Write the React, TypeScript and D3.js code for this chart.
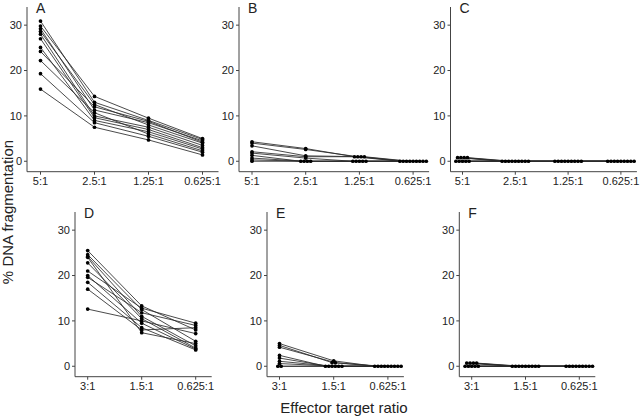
import React from 'react';
import * as d3 from 'd3';

const topCats = ['5:1', '2.5:1', '1.25:1', '0.625:1'];
const botCats = ['3:1', '1.5:1', '0.625:1'];
const yTicks = [0, 10, 20, 30];

const panelA = [
  [30.9, 13.0, 9.0, 4.8],
  [29.8, 14.3, 9.5, 5.0],
  [29.2, 11.3, 8.5, 4.5],
  [28.6, 12.5, 8.0, 4.0],
  [28.0, 10.0, 7.5, 3.5],
  [27.0, 9.6, 7.0, 3.0],
  [25.1, 9.0, 6.5, 2.7],
  [24.2, 12.0, 8.8, 4.2],
  [22.2, 10.7, 6.0, 2.3],
  [19.3, 8.5, 5.5, 2.0],
  [15.9, 7.5, 4.7, 1.4],
];
const panelB = [
  [4.3, 2.8, 1.0, 0],
  [4.0, 2.6, 1.0, 0],
  [3.4, 1.2, 1.0, 0],
  [2.1, 1.0, 1.0, 0],
  [1.8, 0.7, 0, 0],
  [1.3, 0, 0, 0],
  [0.7, 0, 0, 0],
  [0.3, 0, 0, 0],
  [0, 0, 0, 0],
];
const panelC = [
  [0.8, 0, 0, 0],
  [0.8, 0, 0, 0],
  [0.8, 0, 0, 0],
  [0.8, 0, 0, 0],
  [0, 0, 0, 0],
  [0, 0, 0, 0],
  [0, 0, 0, 0],
  [0, 0, 0, 0],
  [0, 0, 0, 0],
];
const panelD = [
  [25.5, 13.3, 8.0],
  [24.6, 12.5, 5.5],
  [24.2, 11.0, 4.5],
  [22.8, 10.5, 4.0],
  [21.0, 12.8, 9.5],
  [20.0, 9.5, 3.8],
  [19.6, 11.8, 9.0],
  [18.5, 8.5, 3.6],
  [17.0, 8.0, 8.5],
  [12.6, 10.0, 7.2],
  [24.0, 7.4, 5.0],
];
const panelE = [
  [5.0, 1.2, 0],
  [4.6, 0.8, 0],
  [4.2, 0.8, 0],
  [2.4, 0, 0],
  [1.8, 0, 0],
  [1.1, 0, 0],
  [0.6, 0, 0],
  [0, 0, 0],
  [0, 0, 0],
];
const panelF = [
  [0.7, 0, 0],
  [0.7, 0, 0],
  [0.7, 0, 0],
  [0.7, 0, 0],
  [0, 0, 0],
  [0, 0, 0],
  [0, 0, 0],
  [0, 0, 0],
  [0, 0, 0],
];

const panels = [
  { label: 'A', data: panelA, cats: topCats, axisX: 27, row: 0, off: 13.5, step: 54 },
  { label: 'B', data: panelB, cats: topCats, axisX: 239, row: 0, off: 13, step: 53.7 },
  { label: 'C', data: panelC, cats: topCats, axisX: 450.5, row: 0, off: 12, step: 52.8 },
  { label: 'D', data: panelD, cats: botCats, axisX: 75, row: 1, off: 12.7, step: 54 },
  { label: 'E', data: panelE, cats: botCats, axisX: 267, row: 1, off: 12.5, step: 54.2 },
  { label: 'F', data: panelF, cats: botCats, axisX: 459.3, row: 1, off: 12.4, step: 53.8 },
];

const rows = [
  { bottom: 171.7, top: 7 },
  { bottom: 376.7, top: 212 },
];

const FONT = 'Liberation Sans, Arial, Helvetica, sans-serif';
const AXIS = '#444';
const SPREAD = 3.3;

function Panel({ p }: { p: any }) {
  const r = rows[p.row];
  const y = d3.scaleLinear().domain([-2.3, 34]).range([r.bottom, r.top]);
  const n = p.cats.length;
  const x = d3
    .scalePoint<string>()
    .domain(p.cats)
    .range([p.axisX + p.off, p.axisX + p.off + p.step * (n - 1)]);
  const xEnd = Math.min(p.axisX + p.off + p.step * (n - 1) + 16, 638);

  const pos: [number, number][][] = p.data.map(() => []);
  p.cats.forEach((c: string, j: number) => {
    const groups = d3.group(
      p.data.map((row: number[], i: number) => ({ i, v: row[j] })),
      (d: any) => d.v.toFixed(2)
    );
    groups.forEach((g: any[]) => {
      const m = g.length;
      g.forEach((d, k) => {
        const dx = m > 1 ? (k - (m - 1) / 2) * SPREAD : 0;
        pos[d.i][j] = [(x(c) as number) + dx, y(d.v)];
      });
    });
  });
  const line = d3.line();

  return (
    <g>
      <line x1={p.axisX} x2={p.axisX} y1={r.top} y2={r.bottom} stroke={AXIS} strokeWidth={1} />
      <line x1={p.axisX} x2={xEnd} y1={r.bottom} y2={r.bottom} stroke={AXIS} strokeWidth={1} />
      {yTicks.map((t) => (
        <g key={t}>
          <line x1={p.axisX - 3} x2={p.axisX} y1={y(t)} y2={y(t)} stroke={AXIS} />
          <text x={p.axisX - 5} y={y(t)} dy="0.35em" textAnchor="end" fontSize={11} fill="#222" fontFamily={FONT}>
            {t}
          </text>
        </g>
      ))}
      {p.cats.map((c: string) => (
        <g key={c}>
          <line x1={x(c)} x2={x(c)} y1={r.bottom} y2={r.bottom + 3} stroke={AXIS} />
          <text x={x(c)} y={r.bottom + 13} textAnchor="middle" fontSize={11} fill="#222" fontFamily={FONT}>
            {c}
          </text>
        </g>
      ))}
      {pos.map((pts, i) => (
        <path key={'l' + i} d={line(pts) || ''} fill="none" stroke="#2a2a2a" strokeWidth={0.85} />
      ))}
      {pos.map((pts, i) =>
        pts.map((pt, j) => <circle key={'c' + i + '-' + j} cx={pt[0]} cy={pt[1]} r={1.85} fill="#000" />)
      )}
      <text x={p.axisX + 9} y={r.top + 5.5} fontSize={14} fill="#222" fontFamily={FONT}>
        {p.label}
      </text>
    </g>
  );
}

export default function App() {
  return (
    <svg
      width={640}
      height={416}
      style={{ position: 'absolute', left: 0, top: 0, background: '#fff' }}
    >
      <rect x={0} y={0} width={640} height={416} fill="#fff" />
      {panels.map((p) => (
        <Panel key={p.label} p={p} />
      ))}
      <text
        transform="translate(13,212) rotate(-90)"
        textAnchor="middle"
        fontSize={15}
        fill="#222"
        fontFamily={FONT}
      >
        % DNA fragmentation
      </text>
      <text x={344} y={413} textAnchor="middle" fontSize={15} fill="#222" fontFamily={FONT}>
        Effector target ratio
      </text>
    </svg>
  );
}
